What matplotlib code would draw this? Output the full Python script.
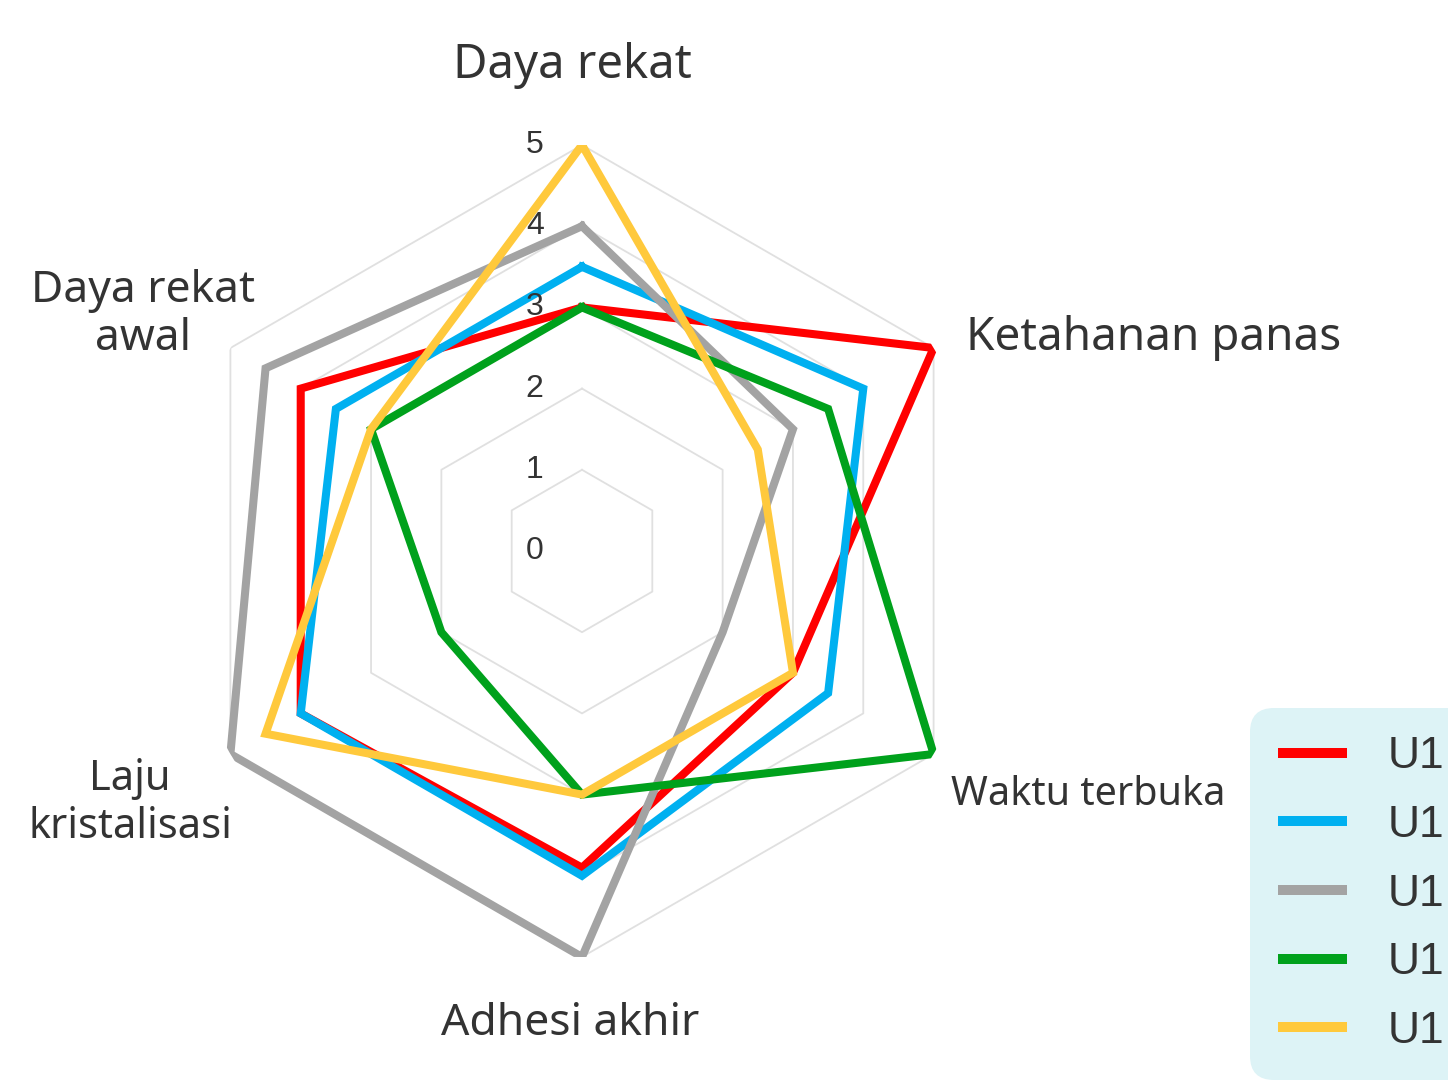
import numpy as np
import matplotlib
matplotlib.use("Agg")
import matplotlib.pyplot as plt
from matplotlib.lines import Line2D

# radar axes (clockwise from top), "\n" marks the label line break
categories = ["Daya rekat", "Ketahanan panas", "Waktu terbuka",
              "Adhesi akhir", "Laju\nkristalisasi", "Daya rekat\nawal"]
series_names = ["U1", "U1", "U1", "U1", "U1"]
u_red    = [3.0, 5.0, 3.0, 3.9, 4.0, 4.0]
u_blue   = [3.5, 4.0, 3.5, 4.0, 4.0, 3.5]
u_gray   = [4.0, 3.0, 2.0, 5.0, 5.0, 4.5]
u_green  = [3.0, 3.5, 5.0, 3.0, 2.0, 3.0]
u_yellow = [5.0, 2.5, 3.0, 3.0, 4.5, 3.0]
r_ticks = [0, 1, 2, 3, 4, 5]

series = [u_red, u_blue, u_gray, u_green, u_yellow]
colors = ["#ff0000", "#00b0f0", "#a3a3a3", "#00a11c", "#ffc93c"]

W, H = 1448, 1086
fig = plt.figure(figsize=(W / 100, H / 100), dpi=100)
fig.patch.set_facecolor("white")

# polar axes placed so the centre sits at (582, 551) px, radius 406 px
cx, cy, rad = 582, 551, 406
ax = fig.add_axes([(cx - rad) / W, (H - cy - rad) / H, 2 * rad / W, 2 * rad / H],
                  projection="polar")
ax.set_theta_offset(np.pi / 2)
ax.set_theta_direction(-1)
ax.set_ylim(0, max(r_ticks))
ax.grid(False)
ax.set_xticks([])
ax.set_yticks([])
ax.spines["polar"].set_visible(False)
ax.patch.set_alpha(0)

angles = np.linspace(0, 2 * np.pi, len(categories), endpoint=False)
closed = np.append(angles, angles[0])

# hexagonal split lines
for lv in r_ticks[1:]:
    ax.plot(closed, [lv] * len(closed), color="#e0e0e0", lw=1.3, zorder=1)

for vals, col in zip(series, colors):
    ax.plot(closed, vals + vals[:1], color=col, lw=5.8,
            solid_joinstyle="miter", zorder=3)

# axis value labels, left of the top spoke
for k in r_ticks:
    ax.annotate(str(k), xy=(0, k), xytext=(-34, 0), textcoords="offset points",
                ha="center", va="center", fontsize=23, color="#333333",
                family="Liberation Sans", zorder=5)

# indicator names (pixel anchors: x, first baseline, alignment, size)
name_pos = [(572, 78, "center", 34), (966, 350, "left", 33), (951, 805, "left", 28.5),
            (570, 1035, "center", 32), (130, 790, "center", 30), (143, 302, "center", 32)]
line_gap = 48
for name, (x, y, ha, fs) in zip(categories, name_pos):
    for i, part in enumerate(name.split("\n")):
        fig.text(x / W, 1 - (y + i * line_gap) / H, part, ha=ha, va="baseline",
                 fontsize=fs, color="#333333", family="Noto Sans")

handles = [Line2D([], [], color=c, lw=7.2, solid_capstyle="butt") for c in colors]
leg = fig.legend(handles, series_names, loc="upper left",
                 bbox_to_anchor=(1250 / W, 1 - 708 / H), bbox_transform=fig.transFigure,
                 borderaxespad=0, frameon=True, fancybox=True, facecolor="#ddf3f6",
                 edgecolor="none", framealpha=1, prop={"family": "Liberation Sans", "size": 32},
                 handlelength=1.55, handletextpad=0.9, labelspacing=0.62, borderpad=0.64)
leg.get_frame().set_boxstyle("round", pad=0, rounding_size=0.55)
for t in leg.get_texts():
    t.set_color("#333333")

fig.savefig("out.png", dpi=100, facecolor="white")
